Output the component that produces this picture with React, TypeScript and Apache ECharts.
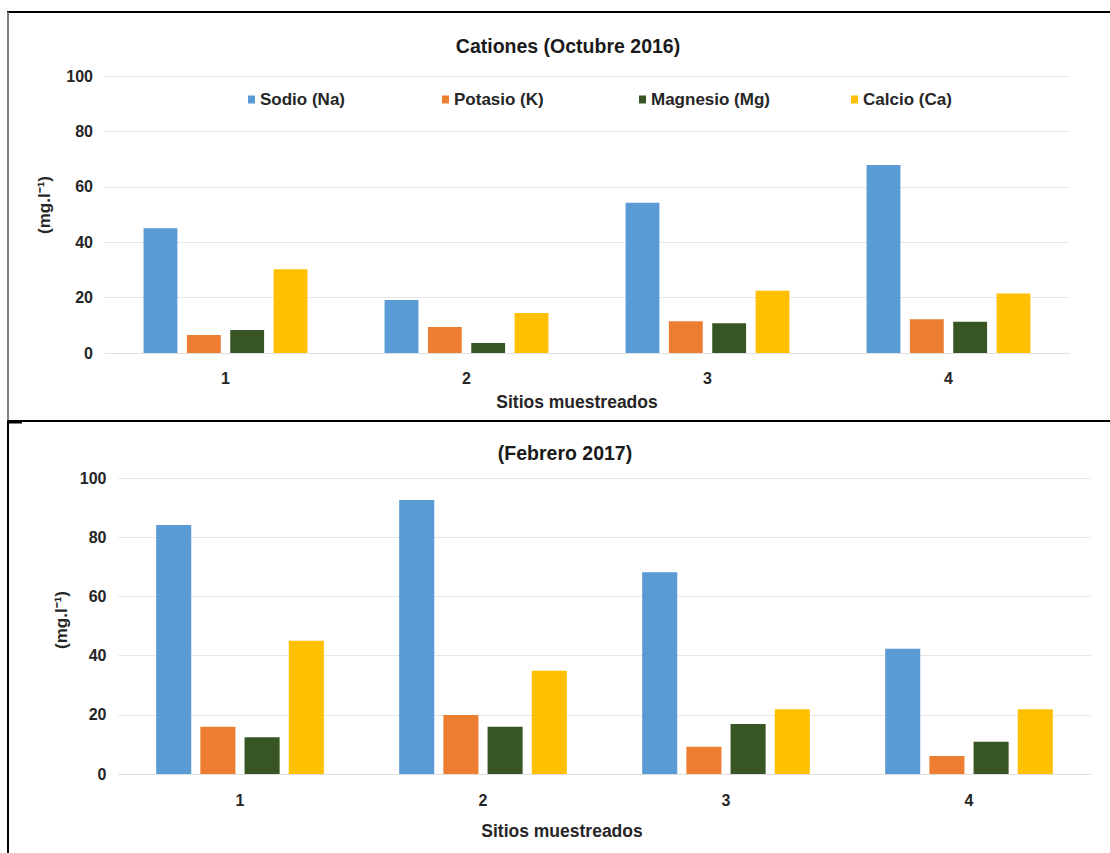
import React, { useEffect, useRef } from "react";
import * as echarts from "echarts";

// Sampling sites and cation series
const sites = ["1", "2", "3", "4"];
const cationNames = ["Sodio (Na)", "Potasio (K)", "Magnesio (Mg)", "Calcio (Ca)"];
const cationColors = ["#5B9BD5", "#ED7D31", "#375623", "#FFC000"];

// Octubre 2016 (mg.l-1)
const oct2016Na = [45, 19.1, 54.2, 67.9];
const oct2016K = [6.5, 9.4, 11.5, 12.2];
const oct2016Mg = [8.3, 3.6, 10.7, 11.3];
const oct2016Ca = [30.2, 14.4, 22.5, 21.5];

// Febrero 2017 (mg.l-1)
const feb2017Na = [84.1, 92.6, 68.2, 42.3];
const feb2017K = [16, 19.9, 9.2, 6.1];
const feb2017Mg = [12.4, 16, 16.9, 10.9];
const feb2017Ca = [45, 34.9, 21.9, 21.9];

const yTicks = { min: 0, max: 100, interval: 20 };

const FONT = "'Liberation Sans Narrow', 'Arial Narrow', 'Liberation Sans', Arial, sans-serif";
const TEXT = "#262626";

export default function App() {
  const ref = useRef<HTMLDivElement>(null);

  useEffect(() => {
    if (!ref.current) return;
    const chart = echarts.init(ref.current, null, { renderer: "svg" });

    const octData = [oct2016Na, oct2016K, oct2016Mg, oct2016Ca];
    const febData = [feb2017Na, feb2017K, feb2017Mg, feb2017Ca];

    const legendLefts = [243, 437, 634, 846];

    const yAxisBase = (gridIndex: number) => ({
      type: "value",
      gridIndex,
      min: yTicks.min,
      max: yTicks.max,
      interval: yTicks.interval,
      axisLine: { show: false },
      axisTick: { show: false },
      splitLine: { lineStyle: { color: "#e6e6e6", width: 1 } },
      axisLabel: { color: TEXT, fontFamily: FONT, fontWeight: "bold", fontSize: 16, margin: 12 },
    });

    const xAxisBase = (gridIndex: number, margin: number) => ({
      type: "category",
      gridIndex,
      data: sites,
      axisLine: { show: true, lineStyle: { color: "#e0e0e0" } },
      axisTick: { show: false },
      axisLabel: { color: TEXT, fontFamily: FONT, fontWeight: "bold", fontSize: 16, margin },
    });

    const barSeries = (data: number[][], axisIndex: number, catGap: string, gap: string) =>
      data.map((vals, i) => ({
        type: "bar",
        name: cationNames[i],
        xAxisIndex: axisIndex,
        yAxisIndex: axisIndex,
        data: vals,
        barCategoryGap: catGap,
        barGap: gap,
        itemStyle: { color: cationColors[i] },
      }));

    const lineStyle = { stroke: "#000", lineWidth: 2 };

    const axisName = (text: string, x: number, y: number, size: number, vertical = false) => ({
      type: "text",
      x,
      y,
      rotation: vertical ? Math.PI / 2 : 0,
      style: {
        text,
        fontFamily: FONT,
        fontWeight: "bold",
        fontSize: size,
        fill: TEXT,
        align: "center",
        verticalAlign: "middle",
      },
    });

    chart.setOption({
      animation: false,
      backgroundColor: "#fff",
      title: [
        {
          text: "Cationes (Octubre 2016)",
          left: 563,
          top: 31,
          textAlign: "center",
          textStyle: { fontFamily: FONT, fontWeight: "bold", fontSize: 19.5, color: "#1a1a1a" },
        },
        {
          text: "(Febrero 2017)",
          left: 560,
          top: 438,
          textAlign: "center",
          textStyle: { fontFamily: FONT, fontWeight: "bold", fontSize: 19.5, color: "#1a1a1a" },
        },
      ],
      legend: cationNames.map((n, i) => ({
        data: [n],
        left: legendLefts[i],
        top: 86,
        itemWidth: 7,
        itemHeight: 8,
        itemGap: 4,
        selectedMode: false,
        icon: "rect",
        textStyle: { fontFamily: FONT, fontWeight: "bold", fontSize: 17, color: TEXT },
      })),
      grid: [
        { left: 105, right: 41, top: 76, height: 277 },
        { left: 118.5, right: 19.5, top: 478, height: 296 },
      ],
      xAxis: [xAxisBase(0, 17), xAxisBase(1, 18)],
      yAxis: [yAxisBase(0), yAxisBase(1)],
      series: [
        ...barSeries(octData, 0, "32%", "28%"),
        ...barSeries(febData, 1, "31%", "26%"),
      ],
      graphic: [
        // panel frames
        { type: "line", shape: { x1: 7, y1: 12, x2: 1110, y2: 12 }, style: lineStyle },
        { type: "line", shape: { x1: 8, y1: 12, x2: 8, y2: 421 }, style: { stroke: "#808080", lineWidth: 2 } },
        { type: "line", shape: { x1: 8, y1: 421, x2: 1110, y2: 421 }, style: lineStyle },
        { type: "line", shape: { x1: 7, y1: 422, x2: 22, y2: 422 }, style: { stroke: "#000", lineWidth: 3 } },
        { type: "line", shape: { x1: 8, y1: 421, x2: 8, y2: 853 }, style: lineStyle },
        // axis names
        axisName("Sitios muestreados", 577, 402, 17.5),
        axisName("Sitios muestreados", 562, 831, 17.5),
        axisName("(mg.l⁻¹)", 44, 205, 17, true),
        axisName("(mg.l⁻¹)", 61, 620, 17, true),
      ],
    });

    return () => chart.dispose();
  }, []);

  return (
    <div
      ref={ref}
      style={{ position: "fixed", left: 0, top: 0, width: 1110, height: 853, background: "#fff" }}
    />
  );
}
